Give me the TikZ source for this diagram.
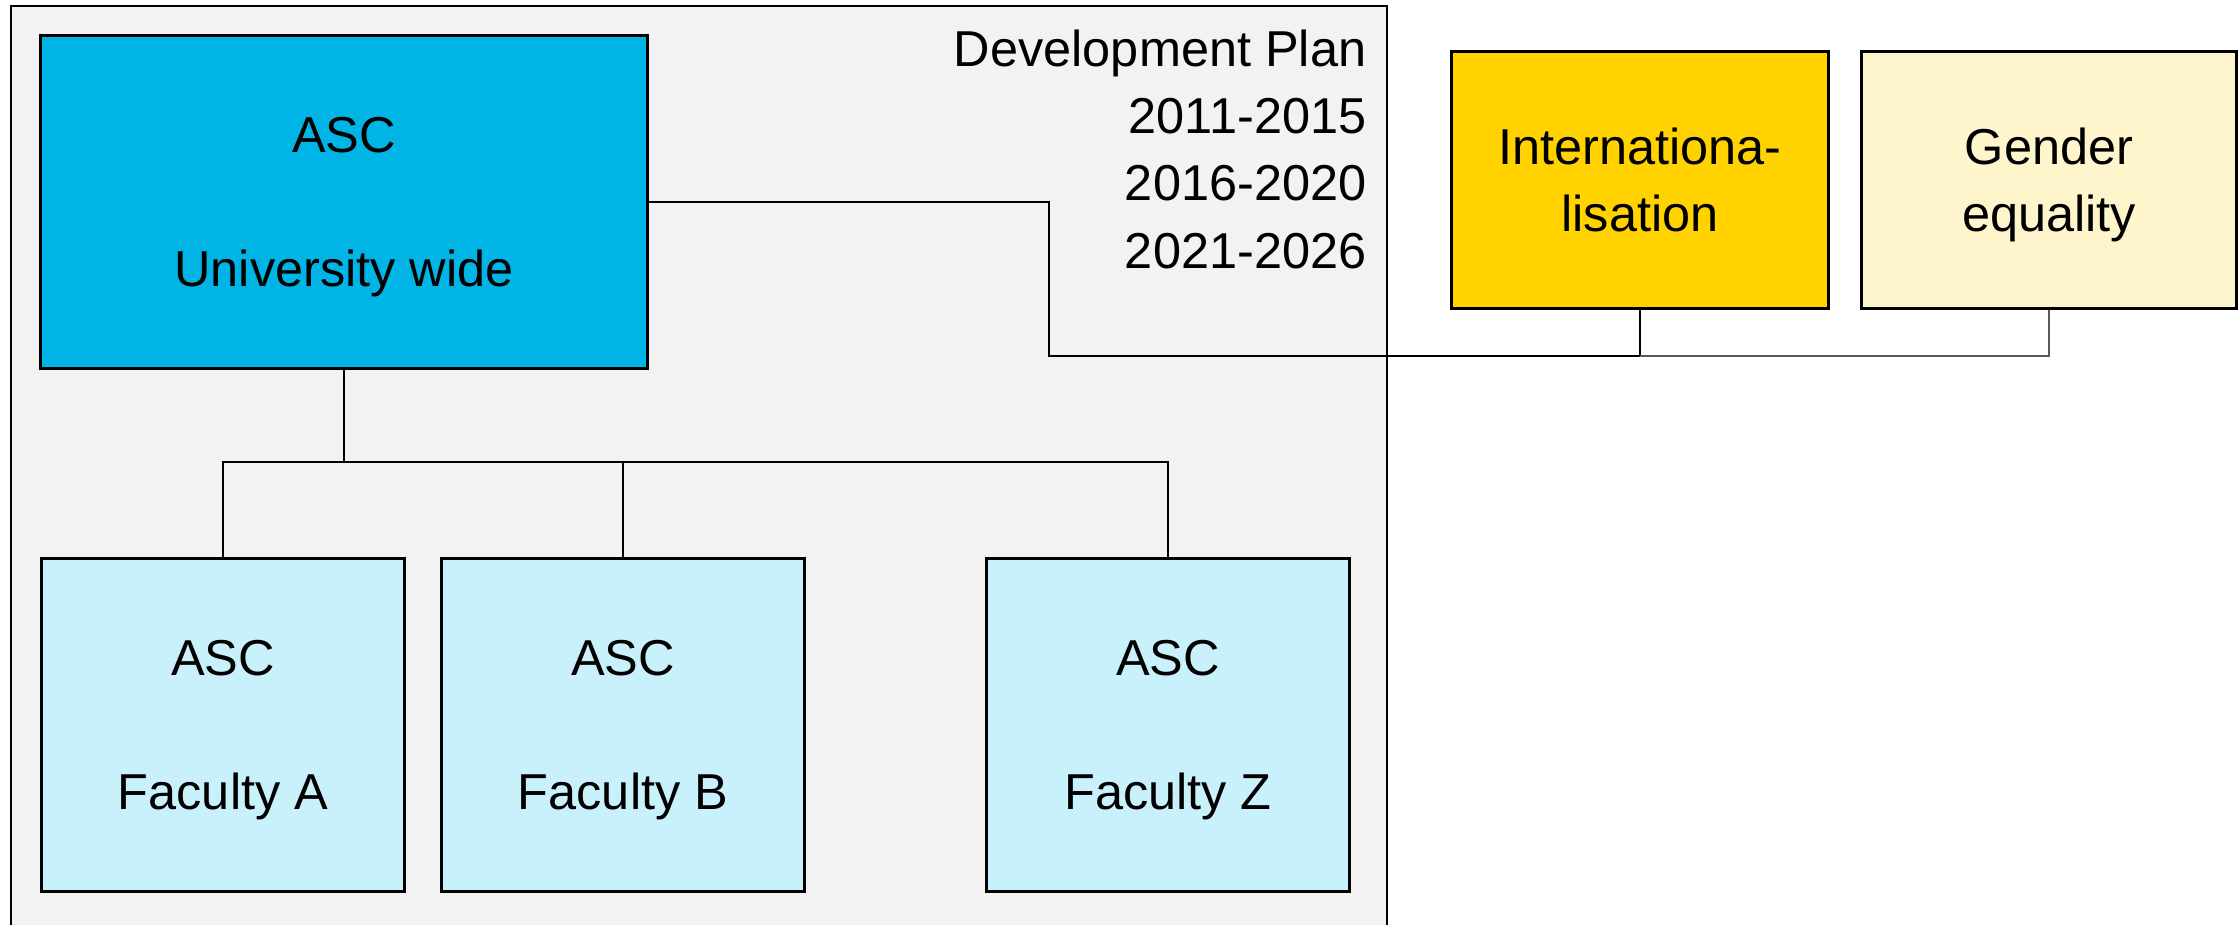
\documentclass[tikz,border=0pt]{standalone}
\usepackage{fontspec}
\setmainfont{Liberation Sans}
\definecolor{panelgrey}{HTML}{F2F2F2}
\definecolor{unitblue}{HTML}{00B4E5}
\definecolor{facultyblue}{HTML}{C9F1FC}
\definecolor{intlyellow}{HTML}{FFD200}
\definecolor{gendercream}{HTML}{FFF5CC}
\tikzset{
  box/.style={draw=black, line width=0.85pt, inner sep=0pt, align=center,
    text depth=0pt, font=\fontsize{14.35}{19}\selectfont},
  facultybox/.style={box, fill=facultyblue, minimum width=3.63cm, minimum height=3.33cm},
  themebox/.style={box, minimum width=3.77cm, minimum height=2.57cm},
  link/.style={draw=black, line width=0.4pt},
}
\begin{document}
\begin{tikzpicture}[x=0.01cm, y=-0.01cm]
  \useasboundingbox (0,0) rectangle (2238,925);
  \clip (0,0) rectangle (2238,925);
  \fill[white] (0,0) rectangle (2238,925);

  % development plan panel
  \draw[fill=panelgrey, line width=0.6pt] (11,6) rectangle (1387,960);
  \node[anchor=north east, inner sep=0pt, align=right,
        font=\fontsize{14.35}{19.15}\selectfont] (plan) at (1367,29)
    {Development Plan\\2011-2015\\2016-2020\\2021-2026};

  % units
  \node[box, fill=unitblue, minimum width=6.06cm, minimum height=3.32cm] (uni) at (344,202)
    {ASC\\[19pt]University wide};
  \node[facultybox] (fa) at (223,725) {ASC\\[19pt]Faculty A};
  \node[facultybox] (fb) at (623,725) {ASC\\[19pt]Faculty B};
  \node[facultybox] (fz) at (1168,725) {ASC\\[19pt]Faculty Z};

  % cross-cutting themes
  \node[themebox, fill=intlyellow] (intl) at (1640,180) {Internationa-\\lisation};
  \node[themebox, fill=gendercream, minimum width=3.75cm] (gender) at (2049,180)
    {Gender\\equality};

  % tree below the university-wide unit
  \coordinate (bus) at (344,462);
  \draw[link] (uni.south) -- (bus);
  \draw[link] (fa.north) |- (bus);
  \draw[link] (fz.north) |- (bus);
  \draw[link] (fb.north) -- (fb.north |- bus);

  % link to the themes
  \coordinate (elbow) at (1049,356);
  \draw[link] (uni.east) -| (elbow) -| (intl.south);
  \draw[link, draw=black!65] (gender.south) |- (intl.south |- elbow);
\end{tikzpicture}
\end{document}
